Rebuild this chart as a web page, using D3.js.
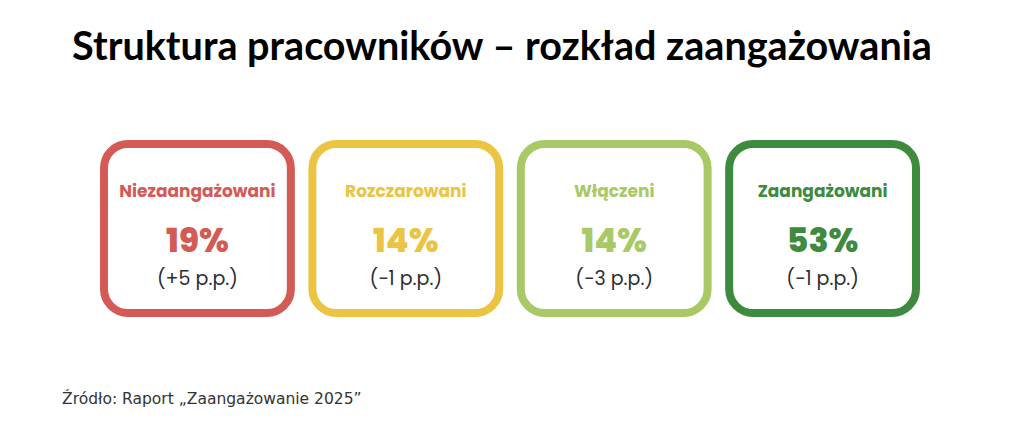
<!DOCTYPE html>
<html>
<head>
<meta charset="utf-8">
<script src="https://cdn.jsdelivr.net/npm/d3@7"></script>
<style>
  html, body { margin: 0; padding: 0; background: #fff; }
  svg { display: block; }
</style>
</head>
<body>
<svg id="chart" width="1024" height="448"></svg>
<script>
// Data
const categories = ['Niezaangażowani', 'Rozczarowani', 'Włączeni', 'Zaangażowani'];
const shares = [19, 14, 14, 53];            // % of employees
const changes = ['+5', '−1', '−3', '−1'];    // change vs previous edition, p.p.
const palette = ['#d45b55', '#ebc444', '#a8c965', '#3e8a3e'];

const titleText = 'Struktura pracowników – rozkład zaangażowania';
const sourceText = 'Źródło: Raport „Zaangażowanie 2025”';

const width = 1024;
const height = 448;
const stroke = 8;

const svg = d3.select('#chart');

// Scales
const x = d3.scaleBand()
  .domain(categories)
  .range([100, 920])
  .paddingInner(0.065);

const color = d3.scaleOrdinal()
  .domain(categories)
  .range(palette);

// shrink/grow a text node so it spans the given width
function fitWidth(sel, target, size) {
  const w = sel.node().getComputedTextLength();
  if (w > 0) sel.attr('font-size', size * target / w);
}

// Title
const title = svg.append('text')
  .attr('x', width / 2 - 10)
  .attr('y', 60)
  .attr('text-anchor', 'middle')
  .attr('font-family', 'Lato, "DejaVu Sans", sans-serif')
  .attr('font-weight', 700)
  .attr('font-size', 34)
  .attr('fill', '#000')
  .text(titleText);

fitWidth(title, 860, 34);

// Cards
const cards = svg.append('g')
  .selectAll('g')
  .data(categories.map((c, i) => ({ name: c, share: shares[i], change: changes[i] })))
  .join('g')
  .attr('transform', d => `translate(${x(d.name)}, 140)`);

cards.append('rect')
  .attr('x', stroke / 2)
  .attr('y', stroke / 2)
  .attr('width', x.bandwidth() - stroke)
  .attr('height', 177 - stroke)
  .attr('rx', 24)
  .attr('ry', 24)
  .attr('fill', '#fff')
  .attr('stroke', d => color(d.name))
  .attr('stroke-width', stroke);

const cx = x.bandwidth() / 2;
const font = 'Poppins, Lato, "Noto Sans", sans-serif';

cards.append('text')
  .attr('x', cx)
  .attr('y', 57)
  .attr('text-anchor', 'middle')
  .attr('font-family', font)
  .attr('font-weight', 700)
  .attr('font-size', 17)
  .attr('fill', d => color(d.name))
  .text(d => d.name);

cards.append('text')
  .attr('x', cx)
  .attr('y', 112)
  .attr('text-anchor', 'middle')
  .attr('font-family', font)
  .attr('font-weight', 800)
  .attr('font-size', 33)
  .attr('fill', d => color(d.name))
  .text(d => `${d.share}%`);

cards.append('text')
  .attr('x', cx)
  .attr('y', 145)
  .attr('text-anchor', 'middle')
  .attr('font-family', font)
  .attr('font-weight', 400)
  .attr('font-size', 19)
  .attr('fill', '#2d2d33')
  .text(d => `(${d.change} p.p.)`);

// Source note
const source = svg.append('text')
  .attr('x', 62)
  .attr('y', 404)
  .attr('font-family', '"DejaVu Sans", Lato, sans-serif')
  .attr('font-size', 14)
  .attr('fill', '#333')
  .text(sourceText);

fitWidth(source, 300, 14);
</script>
</body>
</html>
